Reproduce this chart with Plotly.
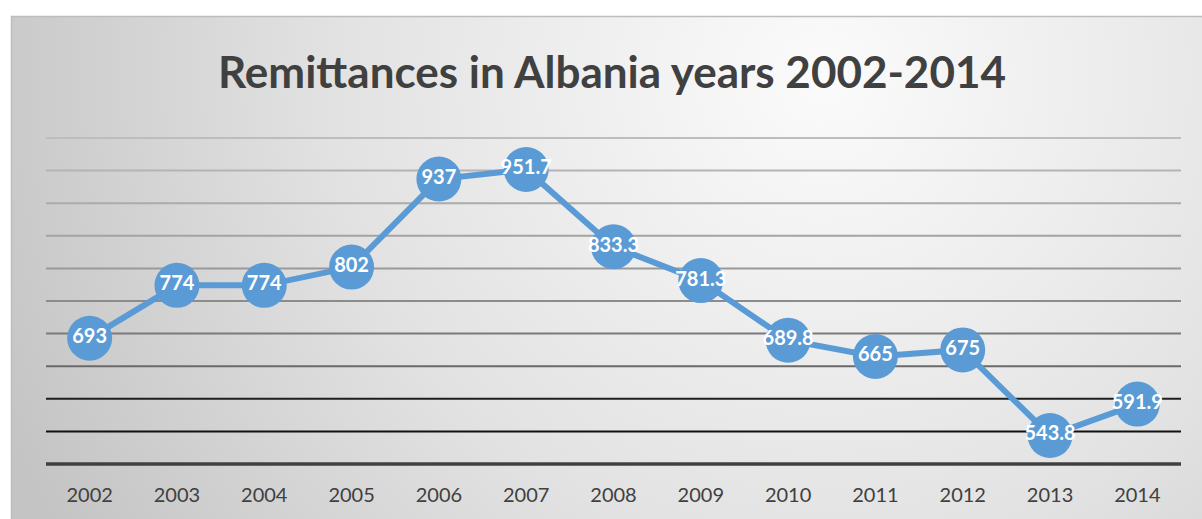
import base64
import plotly.graph_objects as go

years = ["2002", "2003", "2004", "2005", "2006", "2007", "2008",
         "2009", "2010", "2011", "2012", "2013", "2014"]
remittances = [693, 774, 774, 802, 937, 951.7, 833.3,
               781.3, 689.8, 665, 675, 543.8, 591.9]
labels = ["693", "774", "774", "802", "937", "951.7", "833.3",
          "781.3", "689.8", "665", "675", "543.8", "591.9"]
grid_values = [500, 550, 600, 650, 700, 750, 800, 850, 900, 950, 1000]
grid_colors = ["#404040", "#111111", "#1e1e1e", "#6a6a6a", "#7a7a7a",
               "#8c8c8c", "#999999", "#a3a3a3", "#ababab", "#b4b4b4", "#bdbdbd"]
grid_widths = [3.5, 2, 2, 2, 2, 2, 2, 2, 2, 2, 2]

W, H = 1202, 519
ML, MR, MT, MB = 46, 21, 136, 53
PW, PH = W - ML - MR, H - MT - MB

svg = f'''<svg xmlns="http://www.w3.org/2000/svg" width="1191" height="503" viewBox="0 0 1191 503" preserveAspectRatio="none">
<defs><radialGradient id="g" cx="0.68" cy="0.12" r="0.75" gradientUnits="objectBoundingBox" gradientTransform="translate(0.68,0.12) scale(1,2.3) translate(-0.68,-0.12)">
<stop offset="0" stop-color="#fbfbfb"/><stop offset="0.55" stop-color="#e2e2e2"/><stop offset="1" stop-color="#c4c4c4"/></radialGradient></defs>
<rect width="1191" height="503" fill="url(#g)"/></svg>'''
src = "data:image/svg+xml;base64," + base64.b64encode(svg.encode()).decode()

def px_x(px):
    return (px - ML) / PW

def px_y(py):
    return (H - MB - py) / PH

fig = go.Figure()
fig.add_trace(go.Scatter(
    x=years, y=remittances, mode="lines+markers+text",
    text=labels, textposition="middle center",
    textfont=dict(family="Lato, Carlito, sans-serif", size=20, color="white", weight="bold"),
    line=dict(color="#5b9bd5", width=6),
    marker=dict(size=45, color="#5b9bd5", line=dict(width=0)),
    cliponaxis=False, hoverinfo="skip", showlegend=False,
))

shapes = []
for v, c, w in zip(grid_values, grid_colors, grid_widths):
    shapes.append(dict(type="line", xref="paper", yref="y", x0=0, x1=1, y0=v, y1=v,
                       line=dict(color=c, width=w), layer="below"))
shapes.append(dict(type="rect", xref="paper", yref="paper",
                   x0=px_x(11.5), x1=px_x(1210), y0=px_y(16.5), y1=px_y(530),
                   line=dict(color="#bdbdbd", width=1.5), fillcolor="rgba(0,0,0,0)", layer="below"))

fig.update_layout(
    width=W, height=H,
    margin=dict(l=ML, r=MR, t=MT, b=MB),
    paper_bgcolor="white", plot_bgcolor="rgba(0,0,0,0)",
    title=dict(text="<b>Remittances in Albania years 2002-2014</b>",
               x=px_x(612), xanchor="center", xref="paper",
               y=1 - 73 / H, yanchor="middle",
               font=dict(family="Lato, Carlito, sans-serif", size=44, color="#404040")),
    xaxis=dict(type="category", range=[-0.5, 12.5], showgrid=False, zeroline=False,
               showline=False, ticks="", ticklabelstandoff=15,
               tickfont=dict(family="Lato, Carlito, sans-serif", size=20, color="#404040")),
    yaxis=dict(range=[497, 1003], showgrid=False, zeroline=False, showticklabels=False,
               showline=False, ticks=""),
    images=[dict(source=src, xref="paper", yref="paper", x=px_x(11), y=px_y(16),
                 sizex=(W - 11 + 5) / PW, sizey=(H - 16 + 5) / PH,
                 xanchor="left", yanchor="top", sizing="stretch", layer="below")],
    shapes=shapes,
)

fig.write_html("out.html", config={"displayModeBar": False},
               post_script="document.body.style.margin='0';document.body.style.overflow='hidden';")
